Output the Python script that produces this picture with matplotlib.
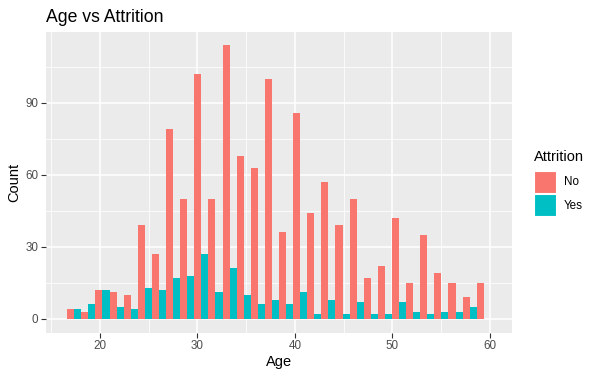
import numpy as np
import matplotlib
matplotlib.use("Agg")
import matplotlib.pyplot as plt
from matplotlib.patches import Rectangle

# Data (histogram with 30 bins over ages 18..60, dodged by Attrition)
age_min, age_max, n_bins = 18, 60, 30
no_counts = [4, 3, 12, 11, 10, 39, 27, 79, 50, 102, 50, 114, 68, 63, 100,
             36, 86, 44, 57, 39, 50, 17, 22, 42, 15, 35, 19, 15, 9, 15]
yes_counts = [4, 6, 12, 5, 4, 13, 12, 17, 18, 27, 11, 21, 10, 6, 8,
              6, 11, 2, 8, 2, 7, 2, 2, 7, 3, 2, 3, 3, 5, 0]
categories = ["No", "Yes"]
colors = ["#F8766D", "#00BFC4"]
x_ticks = [20, 30, 40, 50, 60]
y_ticks = [0, 30, 60, 90]

# ggplot2-style bin breaks
width = (age_max - age_min) / (n_bins - 1)
boundary = width / 2
shift = np.floor((age_min - boundary) / width)
origin = boundary + shift * width
breaks = origin + width * np.arange(n_bins + 1)

plt.rcParams['font.family'] = ['Liberation Sans', 'DejaVu Sans']
fig = plt.figure(figsize=(6.0, 3.77), dpi=100)
ax = fig.add_axes([46/600, 1-332.5/377, (512-46)/600, (332.5-31.7)/377])
ax.set_facecolor("#EBEBEB")

half = width / 2
ax.bar(breaks[:-1], no_counts, width=half, align='edge', color=colors[0], zorder=3, linewidth=0)
ax.bar(breaks[:-1] + half, yes_counts, width=half, align='edge', color=colors[1], zorder=3, linewidth=0)

xr = breaks[-1] - breaks[0]
ax.set_xlim(breaks[0] - 0.05 * xr, breaks[-1] + 0.05 * xr)
ymax = max(max(no_counts), max(yes_counts))
ax.set_ylim(-0.05 * ymax, ymax * 1.05)

ax.set_xticks(x_ticks)
ax.set_yticks(y_ticks)
ax.set_xticks([15, 25, 35, 45, 55], minor=True)
ax.set_yticks([15, 45, 75, 105], minor=True)
ax.grid(which='major', color='white', linewidth=1.1, zorder=0)
ax.grid(which='minor', color='white', linewidth=0.55, zorder=0)
ax.set_axisbelow(True)
for s in ax.spines.values():
    s.set_visible(False)
ax.tick_params(which='major', length=3.5, width=0.8, color='#333333', labelcolor='#4D4D4D', labelsize=8.4, pad=2)
ax.tick_params(which='minor', length=0)

ax.set_xlabel("Age", fontsize=10.5, labelpad=2)
ax.set_ylabel("Count", fontsize=10.5, labelpad=3)
fig.text(46/600, 1-21.7/377, "Age vs Attrition", fontsize=12.7, va='baseline', ha='left')

# Legend
fig.text(534/600, 1-157/377, "Attrition", fontsize=10.5, va='center', ha='left')
for i, (lab, col) in enumerate(zip(categories, colors)):
    y0 = 171 + i * 23
    fig.patches.append(Rectangle((534/600, 1-(y0+22)/377), 22/600, 22/377,
                                 transform=fig.transFigure, facecolor=col, edgecolor='white', linewidth=0.8))
    fig.text(564/600, 1-(y0+11.5)/377, lab, fontsize=8.4, va='center', ha='left')

fig.savefig("out.png", dpi=100)
